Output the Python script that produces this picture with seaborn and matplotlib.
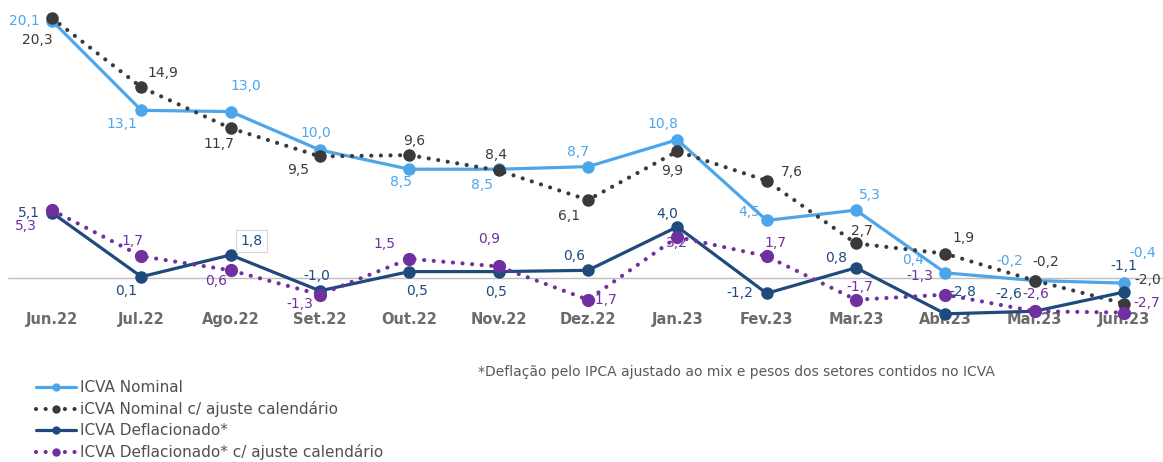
import matplotlib
matplotlib.use("Agg")
import matplotlib.pyplot as plt
import seaborn as sns
import numpy as np

# ---- data ----
months = ["Jun.22", "Jul.22", "Ago.22", "Set.22", "Out.22", "Nov.22", "Dez.22",
          "Jan.23", "Fev.23", "Mar.23", "Abr.23", "Mai.23", "Jun.23"]
icva_nominal = [20.1, 13.1, 13.0, 10.0, 8.5, 8.5, 8.7, 10.8, 4.5, 5.3, 0.4, -0.2, -0.4]
icva_nominal_cal = [20.3, 14.9, 11.7, 9.5, 9.6, 8.4, 6.1, 9.9, 7.6, 2.7, 1.9, -0.2, -2.0]
icva_defl = [5.1, 0.1, 1.8, -1.0, 0.5, 0.5, 0.6, 4.0, -1.2, 0.8, -2.8, -2.6, -1.1]
icva_defl_cal = [5.3, 1.7, 0.6, -1.3, 1.5, 0.9, -1.7, 3.2, 1.7, -1.7, -1.3, -2.6, -2.7]

names = ["ICVA Nominal", "iCVA Nominal c/ ajuste calendário",
         "ICVA Deflacionado*", "ICVA Deflacionado* c/ ajuste calendário"]
footnote = "*Deflação pelo IPCA ajustado ao mix e pesos dos setores contidos no ICVA"

# ---- label offsets (pixels, dy up) ----
off_nom = [(-28, 0), (-19, -14), (15, 26), (-4, 17), (-8, -13), (-17, -16), (-10, 15),
           (-14, 16), (-17, 8), (14, 15), (-32, 13), (-25, 20), (19, 30)]
off_nom_cal = [(-15, -22), (22, 14), (-12, -16), (-22, -14), (5, 14), (-3, 15), (-19, -16),
               (-5, -20), (25, 9), (6, 12), (18, 16), (11, 19), (24, 24)]
off_defl = [(-23, 0), (-15, -14), (21, 14), (-3, 15), (8, -19), (-3, -20), (-14, 14),
            (-10, 13), (-27, 0), (-20, 10), (17, 22), (-26, 17), (0, 26)]
off_defl_cal = [(-26, -16), (-9, 15), (-15, -11), (-20, -9), (-25, 15), (-10, 27), (16, 0),
                (0, -6), (9, 13), (4, 13), (-26, 19), (1, 17), (23, 10)]

c_nom = "#4EA6EA"
c_nomcal = "#3A3A3A"
c_defl = "#1F4A7C"
c_deflcal = "#7030A0"

sns.set_style("white")
plt.rcParams["font.family"] = ["DejaVu Sans"]

W, H = 1163, 462
fig = plt.figure(figsize=(W / 100, H / 100), dpi=100)
# axes: x from px 8 to 1163, y from px 0 to 305
ax = fig.add_axes([8 / W, 1 - 305 / H, (W - 8) / W, 305 / H])

x = np.arange(len(months))
dot = (0, (0.01, 2.3))

series = [
    (icva_nominal, c_nom, "-", 2.3, 9, off_nom, c_nom),
    (icva_nominal_cal, c_nomcal, dot, 3.0, 9, off_nom_cal, "#3A3A3A"),
    (icva_defl, c_defl, "-", 2.3, 9, off_defl, c_defl),
    (icva_defl_cal, c_deflcal, dot, 3.0, 9.5, off_defl_cal, c_deflcal),
]

ax.axhline(0, color="#BFBFBF", lw=1, zorder=1)

for k, (vals, col, ls, lw, ms, offs, lc) in enumerate(series):
    sns.lineplot(x=x, y=vals, ax=ax, color=col, linestyle=ls, linewidth=lw,
                 marker="o", markersize=ms, markeredgewidth=0, markeredgecolor=col,
                 label=names[k], zorder=3 + k, clip_on=False,
                 dash_capstyle="round")

for k, (vals, col, ls, lw, ms, offs, lc) in enumerate(series):
    for i, v in enumerate(vals):
        txt = f"{v:.1f}".replace(".", ",")
        kw = {}
        if k == 2 and i == 2:
            kw["bbox"] = dict(boxstyle="square,pad=0.3", fc="white", ec="#D9D9D9", lw=0.8)
        ax.annotate(txt, (x[i], v), xytext=offs[i], textcoords="offset pixels",
                    ha="center", va="center", color=lc, fontsize=10,
                    zorder=10, annotation_clip=False, **kw)

px = 1 / 89.33
ax.set_xlim(-(52 - 8) * px, 12 + (1163 - 1124) * px)
ax.set_ylim(-(305 - 278) / 12.8, 278 / 12.8)
ax.set_xticks(x)
ax.set_xticklabels(months, fontsize=10.5, fontweight="bold", color="#6B6B6B")
ax.tick_params(axis="x", length=0, pad=5)
ax.set_yticks([])
ax.set_xlabel("")
ax.set_ylabel("")
for s in ax.spines.values():
    s.set_visible(False)

leg = ax.legend(loc="upper left", bbox_to_anchor=(30 / W, 1 - 374 / H),
                bbox_transform=fig.transFigure, frameon=False, fontsize=11,
                handlelength=2.6, handletextpad=0.3, labelspacing=0.4,
                borderaxespad=0, labelcolor="#505050")
for h in leg.legend_handles:
    h.set_markersize(6)

fig.text(478 / W, 1 - 372 / H, footnote, fontsize=10, color="#595959",
         ha="left", va="center")

fig.savefig("out.png", dpi=100)
